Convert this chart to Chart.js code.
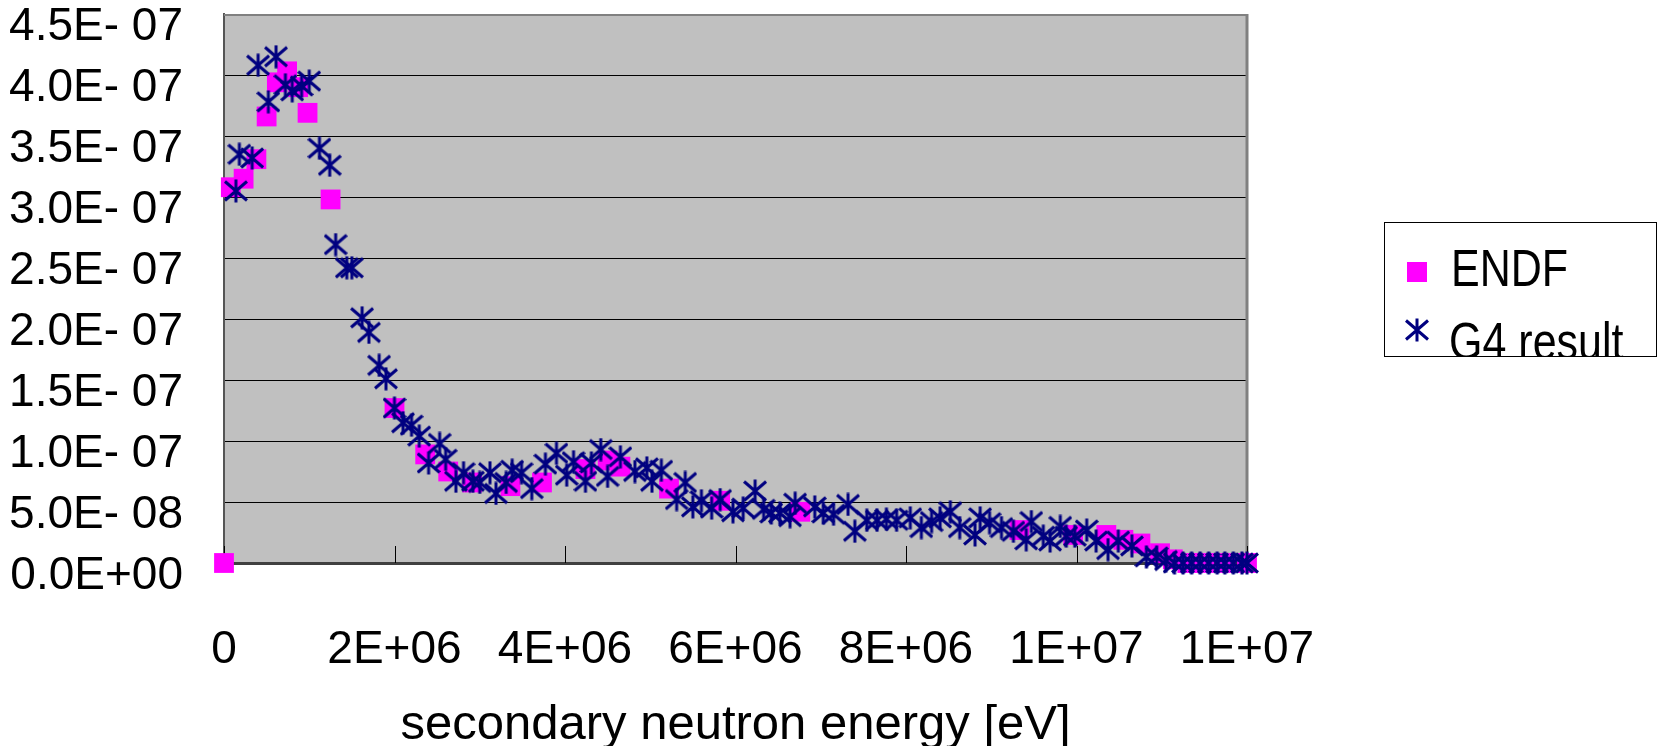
<!DOCTYPE html>
<html>
<head>
<meta charset="utf-8">
<script src="https://cdn.jsdelivr.net/npm/chart.js@4/dist/chart.umd.min.js"></script>
<style>
html,body{margin:0;padding:0;background:#fff;}
#wrap{width:1659px;height:746px;}
</style>
</head>
<body>
<div id="wrap"><canvas id="c" width="1659" height="746"></canvas></div>
<script>
// ---- data (x in units of 1e6 eV, y in units of 1e-7) ----
const X_UNIT = 1e6;
const Y_UNIT = 1e-7;
const seriesNames = ['ENDF', 'G4 result'];
const xTitle = 'secondary neutron energy [eV]';
const xTickValues = [0, 2, 4, 6, 8, 10, 12];
const xTickLabels = ['0', '2E+06', '4E+06', '6E+06', '8E+06', '1E+07', '1E+07'];
const yTickValues = [0, 0.5, 1.0, 1.5, 2.0, 2.5, 3.0, 3.5, 4.0, 4.5];
const yTickLabels = ['0.0E+00', '5.0E- 08', '1.0E- 07', '1.5E- 07', '2.0E- 07', '2.5E- 07', '3.0E- 07', '3.5E- 07', '4.0E- 07', '4.5E- 07'];

const endfX = [0, 0.08, 0.23, 0.38, 0.5, 0.62, 0.74, 0.87, 0.98, 1.25, 2.0, 2.36, 2.63, 2.91, 3.36, 3.73, 4.24, 4.5, 4.65, 5.22, 5.82, 6.76, 9.33, 9.96, 10.35, 10.55, 10.75, 10.98, 11.13, 11.3, 11.5, 11.75, 12.0];
const endfY = [0, 3.08, 3.15, 3.31, 3.66, 3.94, 4.03, 3.90, 3.69, 2.98, 1.27, 0.89, 0.75, 0.66, 0.63, 0.66, 0.77, 0.84, 0.79, 0.61, 0.51, 0.42, 0.27, 0.23, 0.23, 0.19, 0.16, 0.08, 0.03, 0, 0, 0, 0];

const g4X = [0.14, 0.18, 0.33, 0.40, 0.52, 0.61, 0.72, 0.80, 0.91, 1.00, 1.12, 1.24, 1.31, 1.44, 1.50, 1.62, 1.70, 1.82, 1.90, 2.00,
  2.10, 2.20, 2.29, 2.40, 2.53, 2.60, 2.72, 2.81, 2.92, 3.00, 3.12, 3.19, 3.31, 3.38, 3.49, 3.61, 3.77, 3.90, 4.02, 4.10,
  4.24, 4.31, 4.42, 4.50, 4.65, 4.82, 4.96, 5.02, 5.13, 5.31, 5.41, 5.50, 5.60, 5.72, 5.82, 5.97, 6.09, 6.23, 6.33, 6.42,
  6.52, 6.64, 6.70, 6.93, 7.03, 7.15, 7.32, 7.40, 7.54, 7.66, 7.77, 7.89, 8.05, 8.18, 8.30, 8.40, 8.52, 8.63, 8.81, 8.87,
  8.98, 9.12, 9.26, 9.41, 9.47, 9.61, 9.69, 9.81, 9.88, 9.98, 10.12, 10.23, 10.37, 10.49, 10.65, 10.82, 10.94, 11.05, 11.15, 11.25,
  11.35, 11.45, 11.55, 11.65, 11.74, 11.84, 11.94, 12.0];
const g4Y = [3.05, 3.35, 3.32, 4.08, 3.78, 4.15, 3.92, 3.87, 3.91, 3.95, 3.40, 3.26, 2.61, 2.42, 2.42, 2.01, 1.89, 1.62, 1.51, 1.27,
  1.15, 1.13, 1.04, 0.82, 0.98, 0.85, 0.67, 0.74, 0.67, 0.66, 0.74, 0.57, 0.66, 0.76, 0.74, 0.61, 0.81, 0.90, 0.72, 0.83,
  0.67, 0.82, 0.93, 0.71, 0.87, 0.75, 0.78, 0.67, 0.76, 0.52, 0.66, 0.46, 0.51, 0.45, 0.52, 0.42, 0.45, 0.59, 0.44, 0.41,
  0.41, 0.38, 0.49, 0.46, 0.41, 0.40, 0.48, 0.26, 0.35, 0.35, 0.36, 0.35, 0.37, 0.29, 0.34, 0.37, 0.42, 0.29, 0.23, 0.37,
  0.33, 0.29, 0.26, 0.19, 0.34, 0.22, 0.18, 0.30, 0.22, 0.22, 0.27, 0.18, 0.11, 0.18, 0.14, 0.05, 0.05, 0.02, 0, 0,
  0, 0, 0, 0, 0, 0, 0, 0];

// ---- styles ----
const FONT = "'Liberation Sans', Arial, sans-serif";
const ENDF_COLOR = '#FF00FF';
const G4_COLOR = '#000080';

function makeStar() {
  const c = document.createElement('canvas');
  c.width = 24; c.height = 24;
  const g = c.getContext('2d');
  g.strokeStyle = G4_COLOR;
  g.lineWidth = 3;
  g.beginPath();
  g.moveTo(12, 0.5); g.lineTo(12, 23.5);
  g.moveTo(1, 2.5); g.lineTo(23, 21.5);
  g.moveTo(1, 21.5); g.lineTo(23, 2.5);
  g.stroke();
  return c;
}
const starImg = makeStar();

const toPts = (xs, ys) => xs.map((x, i) => ({ x: x * X_UNIT, y: ys[i] * Y_UNIT }));

const plotBg = {
  id: 'plotBg',
  beforeDraw(chart) {
    const { ctx, chartArea: a } = chart;
    ctx.save();
    ctx.fillStyle = '#C0C0C0';
    ctx.fillRect(a.left, a.top, a.right - a.left, a.bottom - a.top);
    ctx.restore();
  },
  beforeDatasetsDraw(chart) {
    const { ctx, chartArea: a, scales } = chart;
    ctx.save();
    ctx.strokeStyle = '#808080';
    ctx.lineWidth = 2;
    ctx.beginPath();
    ctx.moveTo(a.left, a.top + 1); ctx.lineTo(a.right, a.top + 1);
    ctx.stroke();
    ctx.lineWidth = 3;
    ctx.beginPath();
    ctx.moveTo(a.right, a.top); ctx.lineTo(a.right, a.bottom);
    ctx.stroke();
    ctx.strokeStyle = '#000';
    ctx.lineWidth = 1;
    ctx.beginPath();
    xTickValues.forEach(v => {
      const px = Math.round(scales.x.getPixelForValue(v * X_UNIT)) + 0.5;
      ctx.moveTo(px, a.bottom); ctx.lineTo(px, a.bottom - 17);
    });
    ctx.stroke();
    ctx.restore();
  }
};

const legendBox = {
  id: 'legendBox',
  afterDraw(chart) {
    const { ctx } = chart;
    const L = 1384, T = 222, R = 1656, B = 356;
    ctx.save();
    ctx.fillStyle = '#fff';
    ctx.fillRect(L, T, R - L, B - T);
    ctx.strokeStyle = '#000';
    ctx.lineWidth = 1;
    ctx.strokeRect(L + 0.5, T + 0.5, R - L, B - T);
    ctx.beginPath();
    ctx.rect(L + 1, T + 1, R - L - 1, B - T - 1);
    ctx.clip();
    ctx.fillStyle = ENDF_COLOR;
    ctx.fillRect(1407, 262, 20, 20);
    ctx.drawImage(starImg, 1405, 318);
    ctx.fillStyle = '#000';
    ctx.font = '43px ' + FONT;
    ctx.textBaseline = 'middle';
    ctx.textAlign = 'left';
    const sy = 1.2;
    ctx.save();
    ctx.translate(1451, 272);
    ctx.scale(1, sy);
    ctx.fillText(seriesNames[0], 0, 0);
    ctx.restore();
    ctx.save();
    ctx.translate(1449, 345);
    ctx.scale(1, sy);
    ctx.fillText(seriesNames[1], 0, 0);
    ctx.restore();
    ctx.restore();
  }
};

new Chart(document.getElementById('c'), {
  type: 'scatter',
  data: {
    datasets: [
      {
        label: seriesNames[1],
        data: toPts(g4X, g4Y),
        pointStyle: starImg,
        pointRadius: 12,
        pointHoverRadius: 12,
        backgroundColor: G4_COLOR,
        borderColor: G4_COLOR,
        order: 0,
        clip: false
      },
      {
        label: seriesNames[0],
        data: toPts(endfX, endfY),
        pointStyle: 'rect',
        pointRadius: 14,
        pointHoverRadius: 14,
        borderWidth: 0,
        backgroundColor: ENDF_COLOR,
        borderColor: ENDF_COLOR,
        order: 1,
        clip: false
      }
    ]
  },
  options: {
    responsive: false,
    devicePixelRatio: 1,
    animation: false,
    events: [],
    layout: { padding: { top: 14, right: 412, bottom: 0, left: 0 } },
    plugins: { legend: { display: false }, title: { display: false }, tooltip: { enabled: false } },
    scales: {
      x: {
        type: 'linear',
        min: 0,
        max: 12 * X_UNIT,
        afterBuildTicks: s => { s.ticks = xTickValues.map(v => ({ value: v * X_UNIT })); },
        afterFit: s => { s.height = 183; s.paddingLeft = 0; s.paddingRight = 0; },
        ticks: {
          autoSkip: false,
          maxRotation: 0,
          minRotation: 0,
          padding: 60,
          color: '#000',
          font: { family: FONT, size: 46 },
          callback: (v, i) => xTickLabels[i]
        },
        grid: { display: true, drawOnChartArea: false, drawTicks: false, tickLength: 0 },
        border: { display: true, color: '#404040', width: 3 },
        title: {
          display: true,
          text: xTitle,
          color: '#000',
          font: { family: FONT, size: 49, lineHeight: 0.75 },
          padding: { top: 0, bottom: 2 }
        }
      },
      y: {
        type: 'linear',
        min: 0,
        max: 4.5 * Y_UNIT,
        afterBuildTicks: s => { s.ticks = yTickValues.map(v => ({ value: v * Y_UNIT })); },
        afterFit: s => { s.width = 224; s.paddingTop = 0; s.paddingBottom = 0; },
        ticks: {
          autoSkip: false,
          padding: 41,
          labelOffset: 13,
          color: '#000',
          font: { family: FONT, size: 46 },
          callback: (v, i) => yTickLabels[i]
        },
        grid: {
          color: ctx => (ctx.index === yTickValues.length - 1 ? '#808080' : '#000'),
          lineWidth: 1,
          drawTicks: false,
          tickLength: 0
        },
        border: { display: true, color: '#555555', width: 2 }
      }
    }
  },
  plugins: [plotBg, legendBox]
});
</script>
</body>
</html>
